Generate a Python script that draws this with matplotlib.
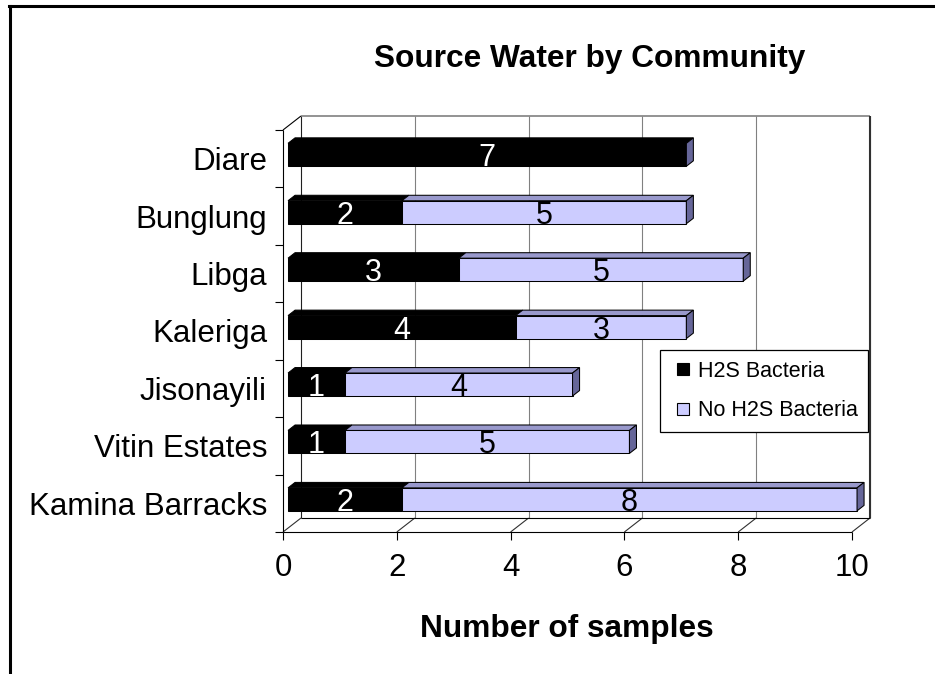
import matplotlib
matplotlib.use('Agg')
import matplotlib.pyplot as plt
from matplotlib.patches import Polygon
from matplotlib.lines import Line2D

# samples per community, listed top to bottom
communities = ['Diare', 'Bunglung', 'Libga', 'Kaleriga', 'Jisonayili',
               'Vitin Estates', 'Kamina Barracks']
h2s = [7, 2, 3, 4, 1, 1, 2]
no_h2s = [0, 5, 5, 3, 4, 5, 8]
series_names = ['H2S Bacteria', 'No H2S Bacteria']
x_ticks = [0, 2, 4, 6, 8, 10]

plt.rcParams['font.family'] = ['Liberation Sans', 'DejaVu Sans']

W, H = 935, 674
fig = plt.figure(figsize=(W / 100, H / 100), dpi=100)
ax = fig.add_axes([283 / W, 142 / H, 569 / W, 402 / H])
ncat = len(communities)
xmax = 10
ax.set_xlim(0, xmax)
ax.set_ylim(0, ncat)
for s in ax.spines.values():
    s.set_visible(False)
ax.patch.set_visible(False)

# 3d depth of the plot box, in data units (about 18px right, 14px up)
DX = 18 * xmax / 569
DY = 14 * ncat / 402


def poly(pts, fc, ec='black', lw=0.75, z=1):
    ax.add_patch(Polygon(pts, closed=True, fc=fc, ec=ec, lw=lw, zorder=z,
                         clip_on=False, joinstyle='miter'))


def seg(p, q, color, lw=0.8, z=2):
    ax.plot([p[0], q[0]], [p[1], q[1]], color=color, lw=lw, zorder=z,
            clip_on=False, solid_capstyle='butt')


# walls and floor
poly([(DX, DY), (xmax + DX, DY), (xmax + DX, ncat + DY), (DX, ncat + DY)], 'white', 'none')
poly([(0, 0), (DX, DY), (DX, ncat + DY), (0, ncat)], 'white', 'none')
poly([(0, 0), (xmax, 0), (xmax + DX, DY), (DX, DY)], 'white', 'none')
for x in x_ticks:
    seg((x + DX, DY), (x + DX, ncat + DY), '#202020' if x == 0 else '#808080')
    seg((x, 0), (x + DX, DY), '#303030')
seg((DX, ncat + DY), (xmax + DX, ncat + DY), '#808080', lw=1.2)
seg((xmax + DX, DY), (xmax + DX, ncat + DY), '#303030', lw=1.5)
seg((DX, DY), (xmax + DX, DY), 'black')
seg((0, 0), (xmax, 0), 'black')
seg((0, 0), (0, ncat), 'black')
seg((0, ncat), (DX, ncat + DY), 'black')

# stacked 3d bars
F0, F1 = 0.28, 0.67
BH = 0.40
front_c = ['black', '#CCCCFF']
top_c = ['black', '#9999CC']
side_c = ['black', '#666699']
text_c = ['white', 'black']
ox, oy = F0 * DX, F0 * DY
ddx, ddy = (F1 - F0) * DX, (F1 - F0) * DY
for k in range(ncat):
    yc = ncat - k - 0.5 + oy
    y0, y1 = yc - BH / 2, yc + BH / 2
    left = 0
    for s, vals in enumerate([h2s, no_h2s]):
        v = vals[k]
        right = left + v
        xa, xb = left + ox, right + ox
        if v > 0:
            poly([(xa, y0), (xb, y0), (xb, y1), (xa, y1)], front_c[s], z=4)
            poly([(xa, y1), (xb, y1), (xb + ddx, y1 + ddy), (xa + ddx, y1 + ddy)],
                 top_c[s], z=4)
            ax.text((xa + xb) / 2, yc, str(v), ha='center', va='center_baseline',
                    fontsize=22, color=text_c[s], zorder=6)
        if s == 1:
            poly([(xb, y0), (xb + ddx, y0 + ddy), (xb + ddx, y1 + ddy), (xb, y1)],
                 side_c[s], z=5)
        left = right

# axes ticks
ax.set_xticks(x_ticks)
ax.set_xticklabels([str(t) for t in x_ticks])
ax.tick_params(axis='x', direction='out', length=5.8, width=0.8, pad=9,
               labelsize=22.5, color='black')
ax.set_yticks(range(ncat + 1))
ax.set_yticklabels([])
ax.set_yticks([ncat - k - 0.5 for k in range(ncat)], minor=True)
ax.set_yticklabels(communities, minor=True)
ax.tick_params(axis='y', which='major', direction='out', length=5.8, width=0.8)
ax.tick_params(axis='y', which='minor', length=0, pad=11.5, labelsize=22.5)

fig.text(590 / W, 1 - 67 / H, 'Source Water by Community', ha='center',
         va='baseline', fontsize=22.8, fontweight='bold')
fig.text(567 / W, 1 - 637 / H, 'Number of samples', ha='center',
         va='baseline', fontsize=22.8, fontweight='bold')

handles = [Line2D([], [], marker='s', ls='none', mfc=front_c[i], mec='black',
                  mew=0.8, ms=8.5) for i in range(2)]
leg = ax.legend(handles, series_names, loc='upper left',
                bbox_to_anchor=(660 / W, 1 - 350 / H),
                bbox_transform=fig.transFigure, borderaxespad=0, fontsize=15.5,
                frameon=True, fancybox=False, framealpha=1, edgecolor='black',
                handlelength=1.1, handletextpad=0.15, labelspacing=0.85,
                borderpad=0.5)
leg.get_frame().set_linewidth(0.9)
leg.set_zorder(10)

# outer border, left and top only
fig.add_artist(Line2D([10 / W, 10 / W], [0, 1 - 6 / H], color='black', lw=2.2,
                      transform=fig.transFigure))
fig.add_artist(Line2D([9 / W, 1], [1 - 6 / H, 1 - 6 / H], color='black', lw=2.2,
                      transform=fig.transFigure))

fig.savefig('out.png', dpi=100)
